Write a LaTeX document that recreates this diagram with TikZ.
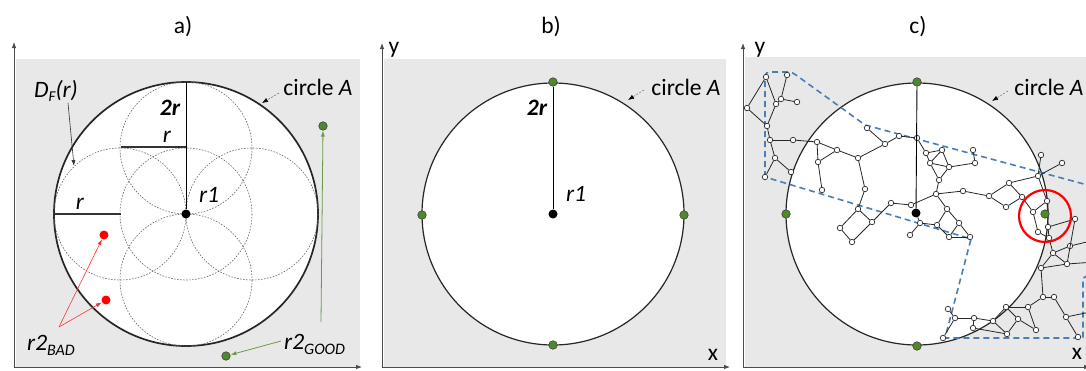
\documentclass[tikz,border=0pt]{standalone}
\usepackage{fontspec}
\setmainfont{Carlito}
\usetikzlibrary{arrows.meta}
\definecolor{bgray}{HTML}{E8E8E8}
\definecolor{gdot}{HTML}{4E8A2A}
\definecolor{garr}{HTML}{6A9A4A}
\definecolor{bdash}{HTML}{4A7EB5}
\begin{document}
\begin{tikzpicture}[x=1pt,y=-1pt,
  lab/.style={font=\fontsize{23.5}{27}\selectfont, inner sep=0pt},
  panel/.style={fill=bgray, draw=none},
  bigc/.style={draw=black!85, fill=white, line width=1.2pt},
  dcirc/.style={draw=black!60, line width=0.6pt, dash pattern=on 1.6pt off 1.4pt},
  axis/.style={line width=0.8pt, draw=black!70, -{Latex[length=6pt,width=4.5pt]}},
  gnode/.style={circle, draw=black!75, fill=gdot, minimum size=8.5pt, inner sep=0pt, line width=0.6pt},
  bnode/.style={circle, fill=black, minimum size=9pt, inner sep=0pt},
  rnode/.style={circle, fill=red, minimum size=9pt, inner sep=0pt},
  wn/.style={circle, draw=black!85, fill=white, minimum size=5.5pt, inner sep=0pt, line width=0.7pt},
  ed/.style={line width=0.8pt, draw=black!85},
  carrow/.style={draw=black!50, line width=0.6pt, dash pattern=on 2pt off 1.5pt, -{Latex[length=6pt,width=4.5pt,color=black]}},
  redarr/.style={draw=red!80, line width=0.6pt, -{Latex[length=6pt,width=4pt]}},
  grnarr/.style={draw=garr, line width=0.8pt, -{Latex[length=6pt,width=4pt]}},
  blkarr/.style={draw=black!80, line width=0.6pt, -{Latex[length=6pt,width=4pt]}}
]
\useasboundingbox (0,0) rectangle (1086,370);
% ---------------- backgrounds
\fill[panel] (16,59) rectangle (360,368);
\fill[panel] (384,59) rectangle (726,368);
\fill[panel] (745,57) rectangle (1086,368);
% ---------------- axes
\coordinate (ao) at (14,367);
\coordinate (ay) at (14,42);
\coordinate (ax) at (362,367);
\draw[axis] (ao) -- (ay);
\draw[axis] (ao) -- (ax);
\coordinate (bo) at (382,367);
\coordinate (by) at (382,43);
\coordinate (bx) at (730,367);
\draw[axis] (bo) -- (by);
\draw[axis] (bo) -- (bx);
\coordinate (co) at (743,367);
\coordinate (cy) at (743,43);
\coordinate (cx) at (1090,367);
\draw[axis] (co) -- (cy);
\draw[axis] (co) -- (cx);
% ---------------- titles
\node[lab] (ta) at (183,27) {a)};
\node[lab] (tb) at (551,27) {b)};
\node[lab] (tc) at (918,27) {c)};
\node[lab] (yb) at (394,50) {y};
\node[lab] (xb) at (713,355) {x};
\node[lab] (yc) at (760,50) {y};
\node[lab] (xc) at (1077,354) {x};

% ================= panel a
\draw[bigc, line width=1.7pt] (186,214) circle (132);
\foreach \cx/\cy in {186/148,120/214,252/214,186/280,186/214}
  \draw[dcirc] (\cx,\cy) circle (66);
\coordinate (atop) at (186,82);
\node[bnode] (ac) at (186,214) {};
\draw[line width=0.9pt] (atop) -- (ac);
\coordinate (ar1) at (121,147);
\coordinate (ar2) at (186,147);
\draw[line width=1.2pt, draw=black!80] (ar1) -- (ar2);
\coordinate (ar3) at (55,214);
\coordinate (ar4) at (121,214);
\draw[line width=1.2pt, draw=black!80] (ar3) -- (ar4);
\node[lab] (a2r) at (170,108) {\bfseries\itshape 2r};
\node[lab] (arA) at (167,137) {\itshape r};
\node[lab] (arB) at (80,204) {\itshape r};
\node[lab] (ar1l) at (209,195) {\itshape r1};
\node[lab] (acA) at (318,87) {circle \itshape A};
\coordinate (acA1) at (279,93);
\coordinate (acA2) at (262,103);
\draw[carrow] (acA1) -- (acA2);
\node[lab, anchor=west] (adf) at (34,91) {\itshape D\raisebox{-4pt}{\fontsize{15}{15}\selectfont F}(r)};
\coordinate (adf1) at (68,103);
\coordinate (adf2) at (74,166);
\draw[blkarr] (adf1) -- (adf2);
% red
\node[rnode] (rb1) at (104,235) {};
\node[rnode] (rb2) at (106,300) {};
\coordinate (rbo) at (59,327);
\draw[redarr] (rbo) -- (rb1);
\draw[redarr] (rbo) -- (rb2);
\node[lab, anchor=west] (rbl) at (27,345) {\itshape r2\raisebox{-5pt}{\fontsize{16}{16}\selectfont BAD}};
% green
\node[gnode] (gg1) at (323,126) {};
\node[gnode] (gg2) at (226,356) {};
\coordinate (gg1o) at (321,322);
\coordinate (gg2o) at (281,341);
\draw[grnarr] (gg1o) -- (gg1);
\draw[grnarr] (gg2o) -- (gg2);
\node[lab, anchor=west] (ggl) at (284,344) {\itshape r2\raisebox{-5pt}{\fontsize{16}{16}\selectfont GOOD}};

% ================= panel b
\draw[bigc] (553,214) circle (131);
\node[gnode] (bt) at (553,82) {};
\node[gnode] (bbt) at (553,345) {};
\node[gnode] (bl) at (422,215) {};
\node[gnode] (br) at (684,215) {};
\node[bnode] (bc) at (553,214) {};
\draw[line width=0.9pt] (bt) -- (bc);
\node[lab] (b2r) at (537,108) {\bfseries\itshape 2r};
\node[lab] (br1) at (576,194) {\itshape r1};
\node[lab] (bcA) at (686,87) {circle \itshape A};
\coordinate (bcA1) at (644,90);
\coordinate (bcA2) at (628,100);
\draw[carrow] (bcA1) -- (bcA2);

% ================= panel c
\draw[bigc] (917,214) circle (131);
% blue dashed region
\draw[bdash, line width=1.6pt, dash pattern=on 6pt off 4pt]
  (765,177) -- (765,76) to[out=90,in=180] (770,72) -- (788,72) to[out=0,in=145] (796,75) -- (865,125)
  -- (1095,187) -- (1095,272) -- (1083,278) -- (1083,338) -- (945,338) -- (971,239) -- cycle;
\foreach \n/\x/\y in {a1/766/77, a2/787/75, a3/747/108, a4/776/104, a5/781/99, a6/797/102, a7/767/126, a8/770/140, a9/793/140, a10/817/142, a11/837/150, a12/818/162, a13/775/158, a14/791/172, a15/765/177, a16/858/158,
b1/822/190, b2/867/128, b3/885/144, b4/899/136, b5/917/138, b7/865/189, b8/891/203, b9/911/205,
b10/926/153, b11/942/150, b12/930/163, b13/949/167, b14/939/180, b15/936/194, b16/963/191,
c1/858/209, c2/840/228, c3/852/242, c4/872/222, c5/920/223, c6/910/235, c7/937/225, c8/947/209, c9/949/237, c10/959/223, c11/970/237,
d1/973/150, d2/975/163, d3/1041/155, d4/1062/163, d5/1038/176, d7/1009/183, d8/1022/197, d9/989/196, d10/1006/207, d11/1033/212, d12/1047/201, d13/1048/227, d14/1075/219,
e1/1038/232, e2/1049/238, e3/1070/246, e4/1053/253, e5/1067/264, e6/1041/268, e7/1043/297, e8/1054/297, e9/1066/317, e10/1078/337, e11/1028/307, e12/1006/307, e13/1018/319, e14/1036/330, e15/993/321, e16/1007/334, e17/974/318, e18/973/328, e19/948/309, e20/955/318, e21/943/338}
  \node[wn] (\n) at (\x,\y) {};
\coordinate (off1) at (1095,240);
\coordinate (off2) at (1095,311);
\coordinate (off3) at (1095,262);
\node[gnode] (ct) at (917,82) {};
\node[gnode] (cl) at (786,214) {};
\node[gnode] (cb) at (917,346) {};
\node[bnode] (cc) at (916,213) {};
\draw[line width=0.9pt] (ct) -- (cc);
\foreach \a/\b in {a1/a3, a1/a4, a3/a7, a4/a7, a4/a5, a2/a5, a5/a6, a7/a8, a8/a9, a9/a10, a10/a11, a10/a12, a11/a12, a8/a13, a13/a14, a13/a15, a12/b1, a11/a16, a16/b3, b2/b3, b3/b4, b4/b5, a16/b7, b7/c1, c1/c2, c2/c3, c3/c4, c4/c1, c4/b8, b8/b9, b9/b15, b5/b10, b10/b11, b10/b12, b11/b12, b11/b13, b12/b13, b12/b14, b13/b14, b14/b15, b15/b16, b15/c8, c8/c7, c8/c10, c7/c9, c10/c9, c10/c11, c9/c11, cc/c5, c5/c6, c5/c7, b13/d2, d1/d2, b16/d9, d9/d7, d9/d10, d7/d8, d10/d8, d7/d5, d5/d3, d5/d4, d8/d11, d11/d12, d12/d5, d12/d13, d13/d14, d11/e1, e1/e2, e2/d13, e2/e4, e3/e4, e4/e5, d14/e5, e5/e6, e6/e4, e6/e7, e7/e8, e8/e9, e9/e10, e7/e11, e11/e12, e11/e14, e12/e13, e13/e14, e12/e15, e15/e16, e13/e16, e15/e17, e17/e18, e17/e20, e19/e20, e20/e21, e18/e16, e3/off1, e9/off2, e5/off3}
  \draw[ed] (\a) -- (\b);
\node[gnode] (cr) at (1045,214) {};
\node[circle, draw=red, line width=2.2pt, minimum size=52pt, inner sep=0pt] (rc) at (1045,216) {};
\node[lab] (ccA) at (1049,87) {circle \itshape A};
\coordinate (ccA1) at (1008,91);
\coordinate (ccA2) at (992,101);
\draw[carrow] (ccA1) -- (ccA2);
\end{tikzpicture}
\end{document}
